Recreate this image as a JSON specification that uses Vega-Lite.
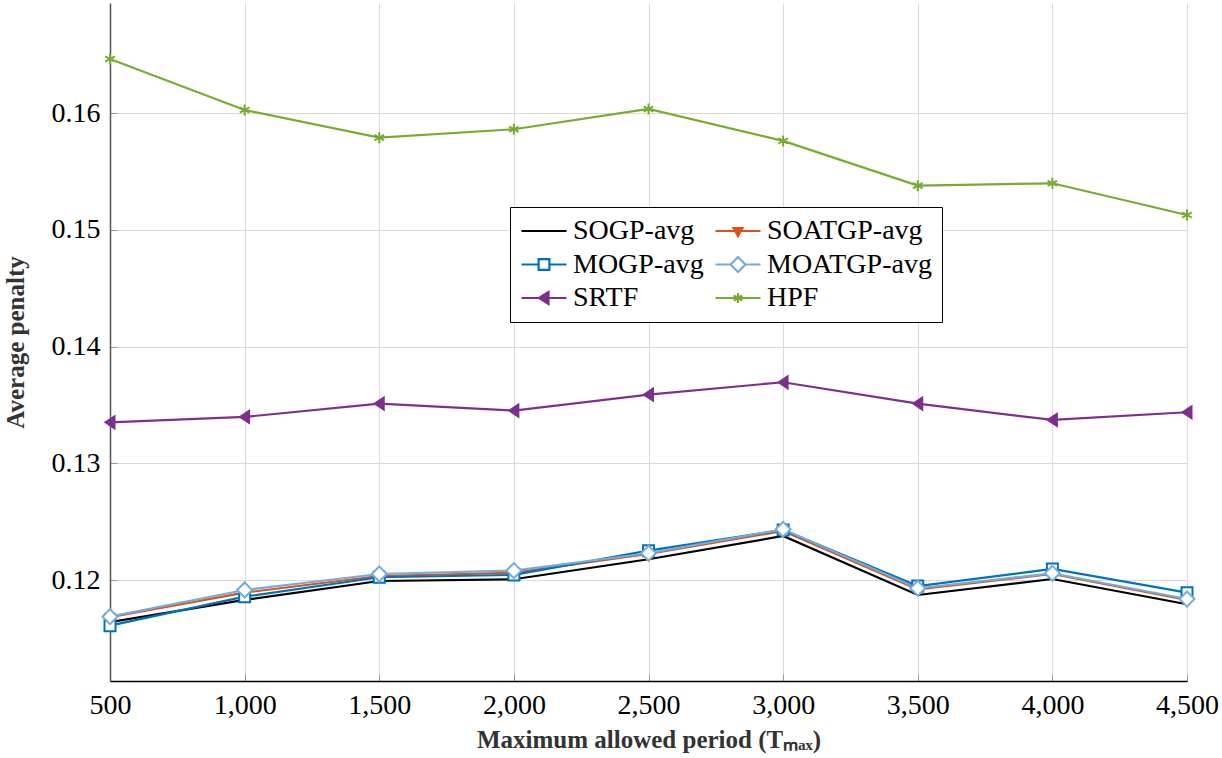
{
  "$schema": "https://vega.github.io/schema/vega-lite/v6.json",
  "width": 1077,
  "height": 678,
  "autosize": {"type": "none"},
  "padding": {"left": 110, "top": 3, "right": 35, "bottom": 77},
  "background": "white",
  "data": {
    "values": [
      {"p": 500, "v": 0.1164, "s": "SOGP-avg"},
      {"p": 1000, "v": 0.1183, "s": "SOGP-avg"},
      {"p": 1500, "v": 0.11992, "s": "SOGP-avg"},
      {"p": 2000, "v": 0.12007, "s": "SOGP-avg"},
      {"p": 2500, "v": 0.12178, "s": "SOGP-avg"},
      {"p": 3000, "v": 0.12378, "s": "SOGP-avg"},
      {"p": 3500, "v": 0.11872, "s": "SOGP-avg"},
      {"p": 4000, "v": 0.12009, "s": "SOGP-avg"},
      {"p": 4500, "v": 0.11793, "s": "SOGP-avg"},
      {"p": 500, "v": 0.11681, "s": "SOATGP-avg"},
      {"p": 1000, "v": 0.11892, "s": "SOATGP-avg"},
      {"p": 1500, "v": 0.12035, "s": "SOATGP-avg"},
      {"p": 2000, "v": 0.12063, "s": "SOATGP-avg"},
      {"p": 2500, "v": 0.12224, "s": "SOATGP-avg"},
      {"p": 3000, "v": 0.12421, "s": "SOATGP-avg"},
      {"p": 3500, "v": 0.11921, "s": "SOATGP-avg"},
      {"p": 4000, "v": 0.12052, "s": "SOATGP-avg"},
      {"p": 4500, "v": 0.1183, "s": "SOATGP-avg"},
      {"p": 500, "v": 0.11609, "s": "MOGP-avg"},
      {"p": 1000, "v": 0.11858, "s": "MOGP-avg"},
      {"p": 1500, "v": 0.12024, "s": "MOGP-avg"},
      {"p": 2000, "v": 0.12044, "s": "MOGP-avg"},
      {"p": 2500, "v": 0.12252, "s": "MOGP-avg"},
      {"p": 3000, "v": 0.12429, "s": "MOGP-avg"},
      {"p": 3500, "v": 0.11949, "s": "MOGP-avg"},
      {"p": 4000, "v": 0.12095, "s": "MOGP-avg"},
      {"p": 4500, "v": 0.11892, "s": "MOGP-avg"},
      {"p": 500, "v": 0.11686, "s": "MOATGP-avg"},
      {"p": 1000, "v": 0.11915, "s": "MOATGP-avg"},
      {"p": 1500, "v": 0.12052, "s": "MOATGP-avg"},
      {"p": 2000, "v": 0.12081, "s": "MOATGP-avg"},
      {"p": 2500, "v": 0.1223, "s": "MOATGP-avg"},
      {"p": 3000, "v": 0.12435, "s": "MOATGP-avg"},
      {"p": 3500, "v": 0.1193, "s": "MOATGP-avg"},
      {"p": 4000, "v": 0.12058, "s": "MOATGP-avg"},
      {"p": 4500, "v": 0.11838, "s": "MOATGP-avg"},
      {"p": 500, "v": 0.13352, "s": "SRTF"},
      {"p": 1000, "v": 0.13398, "s": "SRTF"},
      {"p": 1500, "v": 0.13512, "s": "SRTF"},
      {"p": 2000, "v": 0.13452, "s": "SRTF"},
      {"p": 2500, "v": 0.13589, "s": "SRTF"},
      {"p": 3000, "v": 0.13695, "s": "SRTF"},
      {"p": 3500, "v": 0.13512, "s": "SRTF"},
      {"p": 4000, "v": 0.13372, "s": "SRTF"},
      {"p": 4500, "v": 0.13438, "s": "SRTF"},
      {"p": 500, "v": 0.16465, "s": "HPF"},
      {"p": 1000, "v": 0.16028, "s": "HPF"},
      {"p": 1500, "v": 0.15791, "s": "HPF"},
      {"p": 2000, "v": 0.15863, "s": "HPF"},
      {"p": 2500, "v": 0.16037, "s": "HPF"},
      {"p": 3000, "v": 0.15763, "s": "HPF"},
      {"p": 3500, "v": 0.1538, "s": "HPF"},
      {"p": 4000, "v": 0.154, "s": "HPF"},
      {"p": 4500, "v": 0.15128, "s": "HPF"}
    ]
  },
  "encoding": {
    "x": {
      "field": "p",
      "type": "quantitative",
      "scale": {"domain": [500, 4500], "nice": false, "zero": false},
      "axis": {
        "values": [500, 1000, 1500, 2000, 2500, 3000, 3500, 4000, 4500],
        "format": ",.0f",
        "title": "Maximum allowed period (Tₘₐₓ)",
        "domainColor": "black",
        "domainWidth": 1.5,
        "labelFlush": false,
        "labelPadding": 17,
        "titlePadding": 8
      }
    },
    "y": {
      "field": "v",
      "type": "quantitative",
      "scale": {"domain": [0.11135, 0.16945], "nice": false, "zero": false},
      "axis": {
        "values": [0.12, 0.13, 0.14, 0.15, 0.16],
        "format": ".2f",
        "title": "Average penalty",
        "domainColor": "#555555",
        "domainWidth": 1.5,
        "labelFlush": false,
        "labelPadding": 17,
        "titlePadding": 23
      }
    }
  },
  "layer": [
    {
      "mark": {"type": "line", "strokeWidth": 2.2},
      "encoding": {
        "color": {
          "field": "s",
          "type": "nominal",
          "scale": {
            "domain": ["SOGP-avg", "SOATGP-avg", "MOGP-avg", "MOATGP-avg", "SRTF", "HPF"],
            "range": ["#000000", "#D95319", "#0072BD", "#76ABD8", "#7E2F8E", "#77AC30"]
          },
          "legend": {
            "orient": "none",
            "direction": "horizontal",
            "legendX": 400,
            "legendY": 204,
            "columns": 2,
            "title": null,
            "symbolSize": 2025,
            "symbolStrokeWidth": 2.2,
            "symbolOffset": 0,
            "labelOffset": 5,
            "labelFont": "Liberation Serif, Times New Roman, serif",
            "labelFontSize": 28,
            "labelLimit": 400,
            "labelColor": "black",
            "labelBaseline": "middle",
            "padding": 10,
            "strokeColor": "black",
            "fillColor": "white",
            "rowPadding": 5.5,
            "columnPadding": 10,
            "clipHeight": 28,
            "encode": {
              "symbols": {
                "update": {
                  "shape": {"signal": "datum.value === 'SOGP-avg' ? 'M-1,0H1' : datum.value === 'SOATGP-avg' ? 'M-1,0H1M-0.2,-0.13L0.2,-0.13L0,0.22Z' : datum.value === 'MOGP-avg' ? 'M-1,0H-0.24M0.24,0H1M-0.24,-0.24H0.24V0.24H-0.24Z' : datum.value === 'MOATGP-avg' ? 'M-1,0H-0.33M0.33,0H1M-0.33,0L0,-0.33L0.33,0L0,0.33Z' : datum.value === 'SRTF' ? 'M-1,0H1M-0.22,0L0.2,-0.27L0.2,0.27Z' : 'M-1,0H1M0,-0.22V0.22M-0.19,-0.11L0.19,0.11M-0.19,0.11L0.19,-0.11'"},
                  "fill": {"signal": "datum.value === 'SOATGP-avg' ? '#D95319' : datum.value === 'SRTF' ? '#7E2F8E' : 'white'"}
                }
              }
            }
          }
        }
      }
    },
    {
      "transform": [{"filter": "datum.s !== 'SOGP-avg'"}],
      "mark": {"type": "point", "strokeWidth": 2, "opacity": 1, "size": 400},
      "encoding": {
        "stroke": {
          "field": "s",
          "type": "nominal",
          "scale": {
            "domain": ["SOATGP-avg", "MOGP-avg", "MOATGP-avg", "SRTF", "HPF"],
            "range": ["#D95319", "#0072BD", "#76ABD8", "#7E2F8E", "#77AC30"]
          },
          "legend": null
        },
        "fill": {
          "field": "s",
          "type": "nominal",
          "scale": {
            "domain": ["SOATGP-avg", "MOGP-avg", "MOATGP-avg", "SRTF", "HPF"],
            "range": ["#D95319", "white", "white", "#7E2F8E", "#77AC30"]
          },
          "legend": null
        },
        "shape": {
          "field": "s",
          "type": "nominal",
          "scale": {
            "domain": ["SOATGP-avg", "MOGP-avg", "MOATGP-avg", "SRTF", "HPF"],
            "range": [
              "M-0.45,-0.3L0.45,-0.3L0,0.45Z",
              "M-0.55,-0.55H0.55V0.55H-0.55Z",
              "M-0.75,0L0,-0.75L0.75,0L0,0.75Z",
              "M-0.45,0L0.45,-0.6L0.45,0.6Z",
              "M0,-0.55V0.55M-0.48,-0.27L0.48,0.27M-0.48,0.27L0.48,-0.27"
            ]
          },
          "legend": null
        }
      }
    }
  ],
  "config": {
    "view": {"stroke": null},
    "axis": {
      "grid": true,
      "gridColor": "#d9d9d9",
      "gridWidth": 1,
      "ticks": true,
      "tickSize": -7,
      "tickColor": "#9a9a9a",
      "tickWidth": 1,
      "labelFont": "Liberation Serif, Times New Roman, serif",
      "labelFontSize": 28,
      "labelColor": "black",
      "titleFont": "Liberation Serif, Times New Roman, serif",
      "titleFontSize": 25,
      "titleFontWeight": "bold",
      "titleColor": "#333333"
    }
  }
}
